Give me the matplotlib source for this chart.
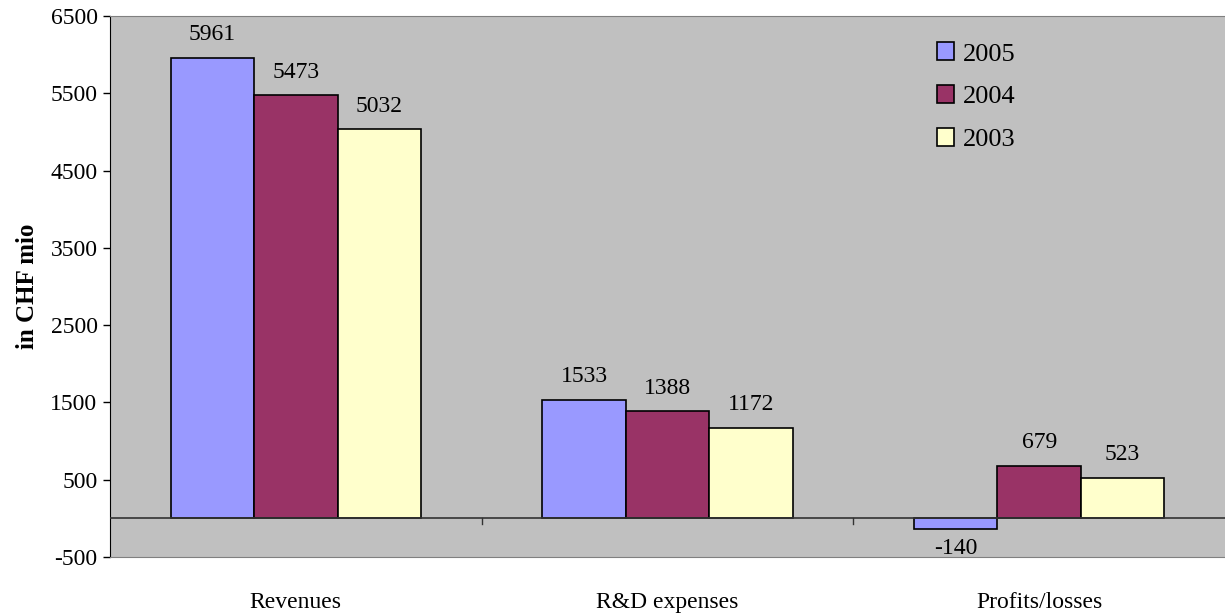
import matplotlib.pyplot as plt
import numpy as np

categories = ['Revenues', 'R&D expenses', 'Profits/losses']
years = ['2005', '2004', '2003']
vals_2005 = [5961, 1533, -140]
vals_2004 = [5473, 1388, 679]
vals_2003 = [5032, 1172, 523]
colors = ['#9999FF', '#993366', '#FFFFCC']

plt.rcParams['font.family'] = ['Liberation Serif', 'DejaVu Serif']
plt.rcParams['axes.unicode_minus'] = False

fig = plt.figure(figsize=(12.25, 6.13), dpi=100)
ax = fig.add_axes([110/1225, 56/613, 1115/1225, 541/613])
ax.set_facecolor('#C0C0C0')

x = np.arange(len(categories))
w = 0.2245
series = [vals_2005, vals_2004, vals_2003]
for i, (yr, vals) in enumerate(zip(years, series)):
    pos = x + (i - 1) * w
    ax.bar(pos, vals, w, color=colors[i], edgecolor='black', linewidth=1.2, label=yr, zorder=3)
    for p, v in zip(pos, vals):
        if v >= 0:
            ax.annotate(str(v), (p, v), xytext=(0, 9), textcoords='offset points',
                        ha='center', va='bottom', fontsize=17)
        else:
            ax.annotate(str(v), (p, v), xytext=(0, -6), textcoords='offset points',
                        ha='center', va='top', fontsize=17)

ax.set_xlim(-0.5, 2.5)
ax.set_ylim(-500, 6500)
ax.set_yticks(np.arange(-500, 6501, 1000))
ax.tick_params(axis='y', labelsize=17, length=5, width=1, direction='out', pad=4)
ax.set_xticks(x)
ax.set_xticklabels(categories, fontsize=17)
ax.tick_params(axis='x', length=0, pad=25)

# zero line with category separator ticks
ax.axhline(0, color='#333333', linewidth=1.2, zorder=4)
for b in [0.5, 1.5]:
    ax.plot([b, b], [0, -70], color='#333333', linewidth=1, zorder=4)

ax.spines['left'].set_color('black')
ax.spines['top'].set_color('#808080')
ax.spines['bottom'].set_color('#808080')
ax.spines['right'].set_visible(False)

ax.set_ylabel('in CHF mio', fontsize=18, fontweight='bold', labelpad=8)

ax.legend(loc='upper left', bbox_to_anchor=(0.72, 0.995), frameon=False, fontsize=19,
          handlelength=0.65, handleheight=0.65, handletextpad=0.35, labelspacing=0.75)

fig.savefig('out.png', dpi=100)
